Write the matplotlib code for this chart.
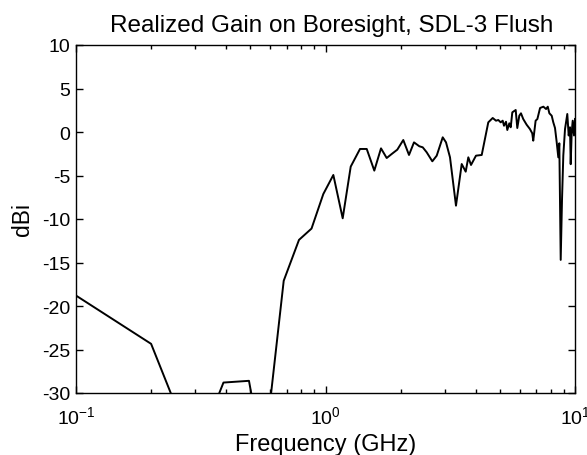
import matplotlib
matplotlib.use("Agg")
import matplotlib.pyplot as plt
import numpy as np
from matplotlib.ticker import LogLocator, NullFormatter

plt.rcParams['font.family'] = ['Liberation Sans', 'DejaVu Sans']
plt.rcParams['mathtext.fontset'] = 'custom'
plt.rcParams['mathtext.rm'] = 'Liberation Sans'
plt.rcParams['mathtext.it'] = 'Liberation Sans:italic'
plt.rcParams['mathtext.bf'] = 'Liberation Sans:bold'
plt.rcParams['axes.unicode_minus'] = False

title = "Realized Gain on Boresight, SDL-3 Flush"
xlabel = "Frequency (GHz)"
ylabel = "dBi"

freq_ghz = [0.1, 0.2, 0.3, 0.39, 0.4935, 0.55, 0.6, 0.68, 0.783, 0.879,
            0.980, 1.075, 1.172, 1.262, 1.375, 1.463, 1.569, 1.669, 1.759, 1.842,
            1.940, 2.050, 2.161, 2.263, 2.377, 2.453, 2.544, 2.680, 2.791, 2.950,
            3.041, 3.155, 3.334, 3.515, 3.647, 3.736, 3.830, 4.010, 4.228, 4.492,
            4.679, 4.824, 4.927, 5.037, 5.131, 5.193, 5.290, 5.354, 5.454, 5.525,
            5.607, 5.785, 5.871, 5.980, 6.074, 6.202, 6.399, 6.597, 6.740, 6.802,
            6.953, 7.066, 7.244, 7.468, 7.657, 7.778, 7.893, 8.066, 8.185, 8.315,
            8.447, 8.572, 8.652, 8.764, 8.870, 8.977, 9.120, 9.314, 9.434, 9.549,
            9.611, 9.700, 9.790, 9.908, 10.0]
gain_dbi = [-18.8, -24.35, -37.0, -28.8, -28.6, -36.0, -31.0, -17.1, -12.4, -11.1,
            -7.13, -4.94, -9.92, -3.98, -1.95, -1.95, -4.44, -1.88, -2.99, -2.53,
            -2.03, -0.92, -2.64, -1.19, -1.64, -1.76, -2.33, -3.37, -2.72, -0.61,
            -1.19, -2.91, -8.47, -3.68, -4.56, -2.91, -3.79, -2.72, -2.64, 1.11,
            1.61, 1.30, 1.38, 1.11, 1.30, 0.72, 1.18, 0.23, 1.00, 0.54,
            2.26, 2.53, 0.46, 1.87, 2.15, 1.49, 0.84, 0.34, -0.15, -1.00,
            1.30, 1.49, 2.76, 2.91, 2.64, 2.91, 2.15, 1.87, 1.11, 0.46,
            -1.19, -2.91, -1.30, -14.7, -7.8, -2.7, 0.34, 2.07, -0.40, 0.54,
            -3.70, -0.03, 1.30, -0.40, 1.50]

yticks = [-30, -25, -20, -15, -10, -5, 0, 5, 10]

W, H = 587, 456
fig = plt.figure(figsize=(W / 100, H / 100), dpi=100)
L, R, T, B = 76, 575, 46, 394
ax = fig.add_axes([L / W, 1 - B / H, (R - L) / W, (B - T) / H])

ax.plot(freq_ghz, gain_dbi, color='black', linewidth=1.4)
ax.set_xscale('log')
ax.set_xlim(0.1, 10)
ax.set_ylim(-30, 10)
ax.set_yticks(yticks)
ax.xaxis.set_major_locator(LogLocator(base=10))
ax.xaxis.set_minor_locator(LogLocator(base=10, subs=np.arange(2, 10)))
ax.xaxis.set_minor_formatter(NullFormatter())

ax.tick_params(which='both', direction='in', top=True, right=True,
               labelsize=14, width=1.0, colors='black')
ax.tick_params(which='major', length=5)
ax.tick_params(which='minor', length=3)
ax.tick_params(axis='x', which='major', pad=9)
ax.tick_params(axis='y', which='major', pad=4)
for s in ax.spines.values():
    s.set_linewidth(1.0)

ax.set_title(title, fontsize=17.5, pad=10, x=0.513)
ax.set_xlabel(xlabel, fontsize=17, labelpad=4)
ax.set_ylabel(ylabel, fontsize=16.5, labelpad=6)

fig.savefig("out.png", dpi=100)
